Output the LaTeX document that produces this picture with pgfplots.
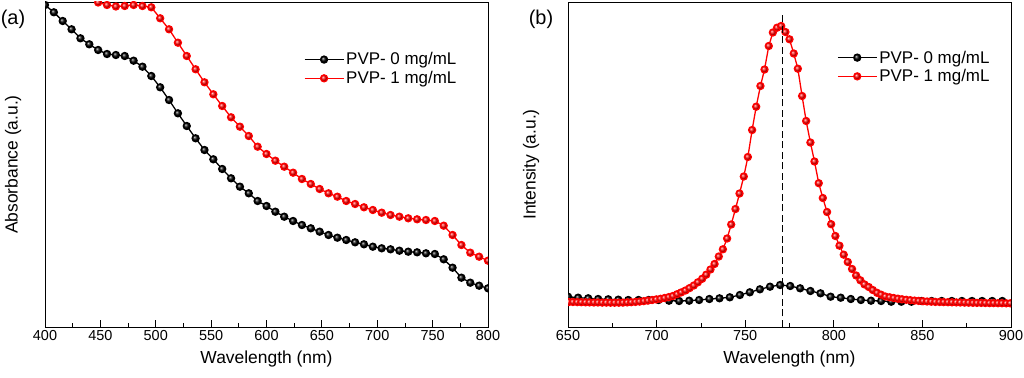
\documentclass[border=0pt]{standalone}
\usepackage{fontspec}
\setmainfont{Liberation Sans}
\usepackage{pgfplots}
\pgfplotsset{compat=1.18}
\pgfplotsset{
  panel/.style={
    scale only axis, width=443bp, height=325bp,
    ymin=0, ymax=325, ytick=\empty,
    xtick pos=bottom, tick align=inside,
    minor x tick num=1,
    major tick length=7bp, minor tick length=4bp,
    axis line style={line width=0.9bp},
    every tick/.style={line width=0.8bp, black},
    tick label style={font=\fontsize{14.5}{16}\selectfont},
    label style={font=\fontsize{17.5}{20}\selectfont},
    /pgf/number format/assume math mode=true,
    clip marker paths=true,
    legend cell align=left,
    legend style={draw=none, fill=none, inner sep=0pt, row sep=1bp,
      font=\fontsize{17}{21}\selectfont, anchor=west},
    legend image code/.code={
      \draw[mark repeat=2, mark phase=2] plot coordinates {(0bp,0bp) (19.5bp,0bp) (39bp,0bp)};},
  },
  blk/.style={black, line width=1.3bp, mark=ball, mark size=3.5bp, mark options={ball color=black, draw=none}},
  rd/.style={red, line width=1.3bp, mark=ball, mark size=3.5bp, mark options={ball color=red, draw=none}},
}
\begin{document}
\begin{tikzpicture}
\useasboundingbox (0,0) rectangle (1024bp,378bp);
\begin{axis}[panel, at={(45bp,51bp)}, anchor=south west,
  xmin=400, xmax=800, xtick={400,450,...,800},
  xlabel={Wavelength (nm)}, ylabel={Absorbance (a.u.)},
  xlabel style={at={(axis description cs:0.5,-0.098)}, anchor=center},
  ylabel style={at={(axis description cs:-0.072,0.5)}, anchor=center},
  legend style={at={(axis description cs:0.584,0.794)}}]
\addplot[blk] coordinates {
(400,322) (408,314.7) (416,306) (424,297.7) (432,288.7) (440,282.7) (448,277) (456,273)
(464,272) (472,271) (480,266.3) (488,260.3) (496,251) (504,239.7) (512,227) (520,213.7)
(528,201) (536,188.7) (544,177) (552,167.7) (560,158) (568,148.7) (576,140.3) (584,133.7)
(592,126) (600,121) (608,115.3) (616,110.3) (624,106) (632,102) (640,98.7) (648,95.3)
(656,92) (664,89.3) (672,87) (680,84.7) (688,82.7) (696,80.3) (704,78.7) (712,77.7)
(720,76.3) (728,75.3) (736,74.7) (744,73.7) (752,73) (760,67.7) (768,59.3) (776,49.3)
(784,44.3) (792,41.3) (800,38.7)};
\addlegendentry{PVP- 0 mg/mL}
\addplot[rd] coordinates {
(440,336) (448,324.5) (456,322) (464,320.5) (472,321) (480,322) (488,321) (496,319.7)
(504,308.7) (512,297.7) (520,284.3) (528,271) (536,257.7) (544,244.7) (552,232.7) (560,221)
(568,209.7) (576,200.3) (584,191) (592,180.3) (600,173) (608,166.3) (616,160.3) (624,154.3)
(632,148) (640,143) (648,138) (656,133.7) (664,130.3) (672,126) (680,123) (688,119.7)
(696,117) (704,114.3) (712,112) (720,110.3) (728,108.7) (736,107.7) (744,107) (752,106)
(760,101.3) (768,92) (776,82) (784,74.3) (792,70.3) (800,66.3)};
\addlegendentry{PVP- 1 mg/mL}
\end{axis}
\node[font=\fontsize{20}{22}\selectfont] at (13bp,359bp) {(a)};
\begin{axis}[panel, at={(568bp,51bp)}, anchor=south west,
  xmin=650, xmax=900, xtick={650,700,...,900},
  xlabel={Wavelength (nm)}, ylabel={Intensity (a.u.)},
  xlabel style={at={(axis description cs:0.5,-0.098)}, anchor=center},
  ylabel style={at={(axis description cs:-0.0835,0.5)}, anchor=center},
  legend style={at={(axis description cs:0.607,0.80)}}]
\addplot[blk] coordinates {
(650,30.3) (655.7,29.3) (661.4,28.7) (667,28) (672.7,27.7) (678.4,27.3) (684,27) (689.8,27)
(695.5,27) (701.1,27) (707,26.3) (712.7,26) (718.4,26.3) (724,27) (729.8,28) (735.5,28.7)
(741.3,29.7) (747,32) (752.6,34.7) (758.3,37.7) (764,40.3) (769.7,42) (775.4,41) (781,38.7)
(786.8,36) (792.5,33.7) (798.2,30.3) (803.9,29.3) (809.6,28) (815.3,27) (821,26.3) (826.7,26)
(832.4,25.3) (838.1,25.3) (843.8,25.3) (849.5,26) (855.2,26) (860.9,26) (866.6,26) (872.3,26)
(878,26) (883.7,26) (889.4,26) (895.1,26) (900.8,26)};
\addlegendentry{PVP- 0 mg/mL}
\addplot[rd] coordinates {
(648.1,25) (650.5,25) (652.8,25) (655.2,24.9) (657.5,24.8) (659.9,24.7) (662.2,24.6) (664.6,24.5)
(666.9,24.5) (669.3,24.4) (671.6,24.4) (674,24.3) (676.3,24.3) (678.7,24.3) (681,24.4) (683.4,24.6)
(685.7,24.8) (688.1,25.1) (690.4,25.4) (692.8,25.9) (695.1,26.4) (697.5,27) (699.8,27.6) (702.2,28.2)
(704.5,29) (706.9,29.9) (709.2,31) (711.6,32.8) (713.9,34.6) (716.3,36.5) (718.6,38.9) (721,41.5)
(723.3,44.7) (725.7,48.2) (728,52.3) (730.4,57.5) (732.7,63) (735.1,70.5) (737.4,77.7) (739.8,88.5)
(742.1,102.5) (744.5,118) (746.8,133.5) (749.2,150.5) (751.5,170) (753.9,197) (756.2,220.3) (758.6,241)
(760.9,257.5) (763.3,281) (765.6,294.5) (768,299.3) (770.3,301) (772.7,295) (775,287.7) (777.4,273.5)
(779.7,258.3) (782.1,231) (784.4,206) (786.8,184.5) (789.1,165.5) (791.5,143.8) (793.8,129) (796.2,115)
(798.5,102.8) (800.9,91) (803.2,81.3) (805.6,72.3) (807.9,65) (810.3,58) (812.6,51.5) (815,46.7)
(817.3,42.6) (819.7,40) (822,37) (824.4,34.2) (826.7,32.3) (829.1,30.5) (831.5,29.7) (833.8,29)
(836.2,28.3) (838.5,27.7) (840.9,27.2) (843.2,26.8) (845.6,26.4) (847.9,26.1) (850.3,25.8) (852.6,25.5)
(855,25.3) (857.3,25.1) (859.7,25) (862,24.9) (864.4,24.8) (866.7,24.7) (869.1,24.6) (871.4,24.5)
(873.8,24.4) (876.1,24.3) (878.5,24.2) (880.8,24.1) (883.2,24.1) (885.5,24) (887.9,23.9) (890.2,23.9)
(892.6,23.8) (894.9,23.8) (897.3,23.7) (899.6,23.7)};
\addlegendentry{PVP- 1 mg/mL}
\addplot[black, line width=1.6bp, dash pattern=on 7bp off 3.5bp, forget plot] coordinates {(771,0) (771,314)};
\end{axis}
\node[font=\fontsize{20}{22}\selectfont] at (541bp,359bp) {(b)};
\end{tikzpicture}
\end{document}
